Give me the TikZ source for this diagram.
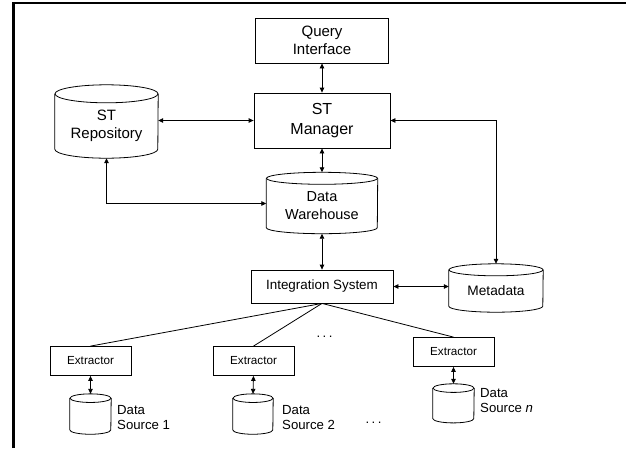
\documentclass[tikz,border=0pt]{standalone}
\usepackage{fontspec}
\setmainfont{Liberation Sans}
\usetikzlibrary{arrows.meta,calc}
\newcommand\cylinderat[8]{%
  \node[cylbody, minimum width=#4pt, minimum height=#5pt, font=#7] (#1) at (#2,#3) {#8};
  \draw[link] (#1.north west) -- ([yshift=#6pt]#1.south west)
    arc[start angle=180,end angle=360,x radius=#4pt/2,y radius=#6pt] -- (#1.north east);
  \draw[link] (#1.north) ellipse[x radius=#4pt/2,y radius=#6pt];
}
\begin{document}
\begin{tikzpicture}[x=1pt,y=-1pt,
  box/.style={draw, line width=0.8pt, align=center, inner sep=0pt},
  cylbody/.style={inner sep=0pt, align=center},
  link/.style={line width=0.8pt},
  dbl/.style={line width=0.8pt, {Triangle[length=5pt,width=4.5pt]}-{Triangle[length=5pt,width=4.5pt]}},
  lbl/.style={align=left, inner sep=0pt, anchor=west, font=\fontsize{13.2}{15}\selectfont},
]
\useasboundingbox (0,0) rectangle (626,448);
% frame
\draw[line width=2.5pt, line join=miter] (13.3,448) -- (13.3,2.8) -- (626,2.8);

% boxes
\node[box, minimum width=133pt, minimum height=45pt, font=\fontsize{15}{18}\selectfont] (qi) at (322,40.5) {Query\\Interface};
\node[box, minimum width=136pt, minimum height=55pt, font=\fontsize{16}{20}\selectfont] (stm) at (322,120.5) {ST\\Manager};
\node[box, minimum width=142pt, minimum height=33pt, font=\fontsize{13.4}{16}\selectfont] (is) at (322,286.5) {Integration System};
\node[box, minimum width=81pt, minimum height=29pt, font=\fontsize{11.7}{14}\selectfont] (ex1) at (90.5,361) {Extractor};
\node[box, minimum width=81pt, minimum height=29pt, font=\fontsize{11.7}{14}\selectfont] (ex2) at (253.5,361) {Extractor};
\node[box, minimum width=81pt, minimum height=29pt, font=\fontsize{11.7}{14}\selectfont] (exn) at (453.5,352) {Extractor};

% cylinders
\cylinderat{str}{106.5}{126}{103}{64}{9}{\fontsize{15}{17.5}\selectfont}{ST\\Repository}
\cylinderat{dw}{322}{206}{111}{55}{6}{\fontsize{14.5}{18}\selectfont}{Data\\Warehouse}
\cylinderat{md}{496}{291}{94}{42}{6}{\fontsize{13.7}{16}\selectfont}{Metadata}
\cylinderat{ds1}{90.5}{416.2}{41}{35.7}{4.3}{\normalsize}{}
\cylinderat{ds2}{253}{416.2}{40}{35.7}{4.3}{\normalsize}{}
\cylinderat{dsn}{453.5}{405.5}{41}{34.4}{4.3}{\normalsize}{}

% labels
\node[lbl] (ds1l) at (117,417.5) {Data\\Source 1};
\node[lbl] (ds2l) at (282,417.5) {Data\\Source 2};
\node[lbl] (dsnl) at (480,401) {Data\\Source \textit{n}};
\node[inner sep=0pt, font=\fontsize{13.2}{15}\selectfont] (dots1) at (324.5,337) {.\hspace{2.5pt}.\hspace{2.5pt}.};
\node[inner sep=0pt, font=\fontsize{13.2}{15}\selectfont] (dots2) at (373.5,423) {.\hspace{2.5pt}.\hspace{2.5pt}.};

% connectors
\draw[dbl] (qi.south) -- (stm.north);
\draw[dbl] (stm.south) -- ([yshift=6pt]dw.north);
\draw[dbl] (dw.south) -- (is.north);
\draw[dbl] (stm.west -| str.east) -- (stm.west);
\draw[dbl] (str.south) |- ([yshift=2.5pt]dw.west);
\draw[dbl] (stm.east) -| ([yshift=6pt]md.north);
\draw[dbl] (is.east) -- (is.east -| md.west);
\draw[link] (is.south) -- (ex1.north);
\draw[link] (is.south) -- (ex2.north);
\draw[link] (is.south) -- (exn.north);
\draw[dbl] (ex1.south) -- ([yshift=4.3pt]ds1.north);
\draw[dbl] (ex2.south) -- ([yshift=4.3pt]ds2.north);
\draw[dbl] (exn.south) -- ([yshift=4.3pt]dsn.north);
\end{tikzpicture}
\end{document}
